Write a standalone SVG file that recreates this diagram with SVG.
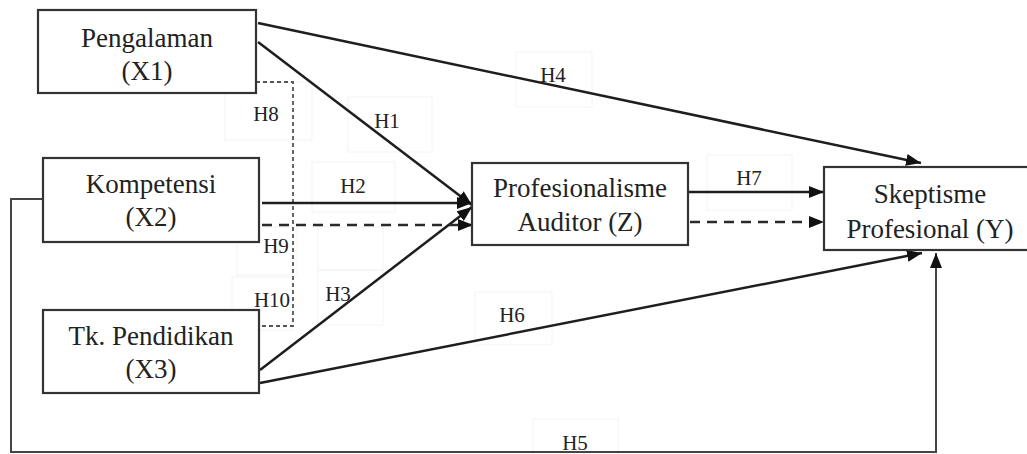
<svg xmlns="http://www.w3.org/2000/svg" width="1027" height="454" viewBox="0 0 1027 454">
<style>
.box{fill:#fff;stroke:#333;stroke-width:2.2}
.t{font-family:'Liberation Serif','DejaVu Serif',serif;font-size:27px;fill:#222;text-anchor:middle}
.lb{font-family:'Liberation Serif','DejaVu Serif',serif;font-size:21px;fill:#222;text-anchor:middle}
.lbox{fill:none;stroke:#f4f4f4;stroke-width:1}
.ln{fill:none;stroke:#1e1e1e;stroke-width:2.5}
.dash{fill:none;stroke:#2a2a2a;stroke-width:2.6;stroke-dasharray:10 7}
.dot{fill:none;stroke:#555;stroke-width:1.8;stroke-dasharray:4 3}
.frame{fill:none;stroke:#444;stroke-width:2}
</style>
<defs>
<marker id="ah" markerUnits="userSpaceOnUse" markerWidth="16" markerHeight="12" refX="15" refY="6" orient="auto">
<path d="M0,0 L15,6 L0,12 Z" fill="#111"/>
</marker>
</defs>
<rect width="1027" height="454" fill="#fff"/>
<g id="label-boxes">
<rect class="lbox" x="225" y="82" width="87" height="58"/>
<rect class="lbox" x="348" y="97" width="84" height="55"/>
<rect class="lbox" x="312" y="162" width="83" height="50"/>
<rect class="lbox" x="516" y="52" width="76" height="55"/>
<rect class="lbox" x="707" y="155" width="85" height="55"/>
<rect class="lbox" x="475" y="292" width="77" height="53"/>
<rect class="lbox" x="533" y="419" width="85" height="40"/>
<rect class="lbox" x="237" y="227" width="60" height="48"/>
<rect class="lbox" x="318" y="227" width="65" height="43"/>
<rect class="lbox" x="232" y="277" width="60" height="53"/>
<rect class="lbox" x="318" y="270" width="65" height="55"/>
</g>
<g id="connectors">
<path class="dot" d="M256,82 L293,82 L293,326 L260,326"/>
<path class="ln" d="M258,23 L921,163" marker-end="url(#ah)"/>
<path class="ln" d="M258,42 L472,205" marker-end="url(#ah)"/>
<path class="ln" d="M262,203 L472,203" marker-end="url(#ah)"/>
<path class="ln" d="M260,370 L472,207" marker-end="url(#ah)"/>
<path class="dash" d="M262,225 L473,225" marker-end="url(#ah)"/>
<path class="ln" d="M260,383 L922,253" marker-end="url(#ah)"/>
<path class="ln" d="M688,192 L824,192" marker-end="url(#ah)"/>
<path class="dash" d="M690,222 L824,222" marker-end="url(#ah)"/>
<path class="frame" d="M43,199 L11,199 L11,452 L936,452 L936,253" marker-end="url(#ah)"/>
<text class="lb" x="266" y="121">H8</text>
<text class="lb" x="387" y="128">H1</text>
<text class="lb" x="353" y="193">H2</text>
<text class="lb" x="276" y="253">H9</text>
<text class="lb" x="272" y="307">H10</text>
<text class="lb" x="338" y="301">H3</text>
<text class="lb" x="553" y="82">H4</text>
<text class="lb" x="749" y="185">H7</text>
<text class="lb" x="512" y="322">H6</text>
<text class="lb" x="575" y="450">H5</text>
</g>
<g id="x1">
<rect class="box" x="38" y="10" width="218" height="83"/>
<text class="t" x="147" y="47">Pengalaman</text>
<text class="t" x="147" y="80">(X1)</text>
</g>
<g id="x2">
<rect class="box" x="43" y="158" width="216" height="84"/>
<text class="t" x="151" y="193">Kompetensi</text>
<text class="t" x="151" y="226">(X2)</text>
</g>
<g id="x3">
<rect class="box" x="43" y="310" width="216" height="83"/>
<text class="t" x="151" y="345">Tk. Pendidikan</text>
<text class="t" x="151" y="378">(X3)</text>
</g>
<g id="z">
<rect class="box" x="472" y="163" width="216" height="82"/>
<text class="t" x="580" y="197">Profesionalisme</text>
<text class="t" x="580" y="231">Auditor (Z)</text>
</g>
<g id="y">
<rect class="box" x="824" y="167" width="216" height="83"/>
<text class="t" x="930" y="203">Skeptisme</text>
<text class="t" x="930" y="238">Profesional (Y)</text>
</g>
</svg>
